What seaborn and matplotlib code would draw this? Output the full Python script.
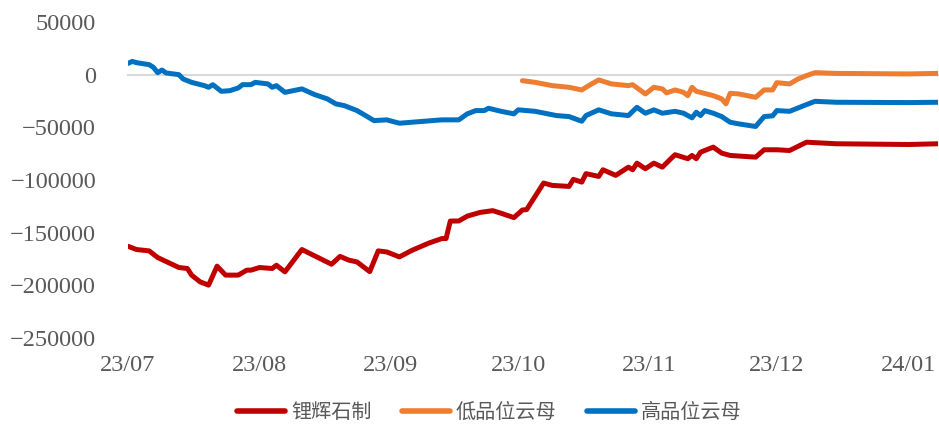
import matplotlib
matplotlib.use("Agg")
import matplotlib.pyplot as plt
import matplotlib.dates as mdates
from matplotlib.lines import Line2D
from matplotlib.ticker import FuncFormatter, FixedLocator
import seaborn as sns
import pandas as pd

sns.set_theme(style="white")
plt.rcParams['font.family'] = ['Liberation Serif', 'DejaVu Sans']

# ---- data ----
series_names = ["锂辉石制", "低品位云母", "高品位云母"]
colors = ["#C00000", "#ED7D31", "#0070C0"]

blue_dates = ["2023-07-01","2023-07-02","2023-07-03","2023-07-06","2023-07-07","2023-07-08","2023-07-09","2023-07-10",
              "2023-07-13","2023-07-14","2023-07-16","2023-07-19","2023-07-20","2023-07-21","2023-07-23","2023-07-25",
              "2023-07-27","2023-07-28","2023-07-30","2023-07-31",
              "2023-08-03","2023-08-04","2023-08-05","2023-08-07","2023-08-11","2023-08-14","2023-08-17","2023-08-19",
              "2023-08-21","2023-08-23","2023-08-24","2023-08-26","2023-08-28","2023-08-31",
              "2023-09-03","2023-09-08","2023-09-13","2023-09-17","2023-09-19","2023-09-21","2023-09-23","2023-09-24",
              "2023-09-27","2023-09-30",
              "2023-10-01","2023-10-05","2023-10-10","2023-10-13","2023-10-16","2023-10-17","2023-10-20","2023-10-23",
              "2023-10-27","2023-10-29","2023-10-31",
              "2023-11-02","2023-11-04","2023-11-07","2023-11-09","2023-11-11","2023-11-12","2023-11-13","2023-11-14",
              "2023-11-16","2023-11-18","2023-11-20","2023-11-22","2023-11-26","2023-11-28","2023-11-30",
              "2023-12-01","2023-12-04","2023-12-08","2023-12-10","2023-12-15",
              "2024-01-01","2024-01-08"]
blue_values = [10700,12600,11400,9500,6900,1900,4400,1600,0,-4100,-7300,-10400,-12000,-9500,-15800,-15200,
               -12600,-9500,-9500,-7300,
               -8800,-12000,-10400,-16800,-13500,-18900,-23000,-27700,-29400,-32500,-34100,-38800,-43600,-42900,
               -46100,-44500,-42900,-42900,-37200,-34100,-34100,-31900,-34800,-37200,
               -33400,-34800,-38800,-39800,-44200,-38800,-33400,-37200,-38800,-31000,-36600,
               -33400,-36600,-34800,-36600,-41000,-35700,-38800,-34100,-36600,-39800,-45200,-46700,-49200,-39800,-39100,
               -34100,-34800,-28400,-25300,-26200,
               -26500,-26200]

red_dates = ["2023-07-01","2023-07-03","2023-07-06","2023-07-08","2023-07-11","2023-07-13","2023-07-15","2023-07-16",
             "2023-07-18","2023-07-20","2023-07-22","2023-07-24","2023-07-27","2023-07-29","2023-07-30",
             "2023-08-01","2023-08-04","2023-08-05","2023-08-07","2023-08-11","2023-08-14","2023-08-18","2023-08-20",
             "2023-08-22","2023-08-24","2023-08-27","2023-08-29","2023-08-31",
             "2023-09-03","2023-09-06","2023-09-10","2023-09-13","2023-09-14","2023-09-15","2023-09-17","2023-09-19",
             "2023-09-22","2023-09-25","2023-09-27","2023-09-30",
             "2023-10-02","2023-10-03","2023-10-05","2023-10-07","2023-10-09","2023-10-13","2023-10-14","2023-10-16",
             "2023-10-17","2023-10-20","2023-10-21","2023-10-24","2023-10-27","2023-10-28","2023-10-29","2023-10-31",
             "2023-11-02","2023-11-04","2023-11-06","2023-11-07","2023-11-10","2023-11-11","2023-11-12","2023-11-13",
             "2023-11-16","2023-11-18","2023-11-20","2023-11-26","2023-11-28",
             "2023-12-01","2023-12-04","2023-12-08","2023-12-15",
             "2024-01-01","2024-01-08"]
red_values = [-162900,-166000,-167300,-173600,-179300,-183100,-184000,-190300,-196700,-199800,-181800,-190300,
              -190300,-185600,-185600,
              -183100,-184000,-180900,-187200,-166000,-172000,-180000,-172500,-176000,-177800,-187000,-167300,-168300,
              -173000,-166700,-159800,-155600,-155600,-139000,-138900,-134300,-130800,-129100,-131600,-135700,
              -128500,-128100,-115500,-102900,-105100,-106100,-99400,-102000,-94000,-96600,-90300,-95600,-87800,
              -90300,-84000,-89300,
              -84000,-87800,-79800,-76000,-79800,-76700,-79800,-73600,-68800,-74500,-76700,-78300,-71300,
              -71300,-72000,-64100,-65600,
              -66300,-65600]

orange_dates = ["2023-10-02","2023-10-05","2023-10-09","2023-10-13","2023-10-16","2023-10-18","2023-10-20",
                "2023-10-23","2023-10-27","2023-10-28","2023-10-31",
                "2023-11-02","2023-11-04","2023-11-05","2023-11-07","2023-11-09","2023-11-10","2023-11-11",
                "2023-11-12","2023-11-16","2023-11-18","2023-11-19","2023-11-20","2023-11-22","2023-11-26",
                "2023-11-28","2023-11-30",
                "2023-12-01","2023-12-04","2023-12-06","2023-12-08","2023-12-10","2023-12-15",
                "2024-01-01","2024-01-08"]
orange_values = [-5700,-7300,-10400,-12000,-14500,-9500,-5000,-8800,-10400,-9500,-18300,
                 -12000,-13500,-17300,-14500,-16800,-19900,-12000,-15800,-19900,-23000,-27700,-17700,-18300,
                 -21500,-14500,-14500,
                 -7600,-8800,-4100,-900,1900,1200,
                 700,1200]

y_ticks = [50000, 0, -50000, -100000, -150000, -200000, -250000]

frames = []
for name, d, v in zip(series_names, [red_dates, orange_dates, blue_dates],
                      [red_values, orange_values, blue_values]):
    frames.append(pd.DataFrame({"date": pd.to_datetime(d), "value": v, "series": name}))
df = pd.concat(frames, ignore_index=True)

# ---- figure ----
fig = plt.figure(figsize=(9.39, 4.24), dpi=100)
ax = fig.add_axes([128/939, (424-338)/424, (938-128)/939, (338-22)/424])

sns.lineplot(data=df, x="date", y="value", hue="series", hue_order=series_names,
             palette=dict(zip(series_names, colors)), estimator=None, sort=True,
             linewidth=3.6, legend=False, ax=ax)
for ln in ax.lines:
    ln.set_solid_capstyle("round")
    ln.set_solid_joinstyle("round")

ax.set_xlim(pd.Timestamp("2023-07-01"), pd.Timestamp("2024-01-08"))
ax.set_ylim(-250000, 50000)
ax.set_xlabel("")
ax.set_ylabel("")

grey = "#595959"
for s in ["top", "right", "left"]:
    ax.spines[s].set_visible(False)
ax.spines["bottom"].set_position(("data", 0))
ax.spines["bottom"].set_color("#D9D9D9")
ax.spines["bottom"].set_linewidth(1.5)
ax.spines["bottom"].set_zorder(0.5)

ax.xaxis.set_major_locator(mdates.MonthLocator(bymonthday=1))
ax.tick_params(axis="x", which="major", direction="out", length=4, width=1.3,
               color="#D9D9D9", labelbottom=False)

ax.yaxis.set_major_locator(FixedLocator(y_ticks))
ax.yaxis.set_major_formatter(FuncFormatter(lambda v, p: ("\u2212" if v < 0 else "") + f"{abs(int(v))}"))
ax.tick_params(axis="y", length=0, pad=23, labelsize=17.5, labelcolor=grey)
ax.grid(False)

sec = ax.secondary_xaxis(0)
sec.xaxis.set_major_locator(mdates.MonthLocator(bymonthday=1))
sec.xaxis.set_major_formatter(mdates.DateFormatter("%y/%m"))
sec.tick_params(axis="x", length=0, pad=12, labelsize=17.5, labelcolor=grey)
sec.spines["bottom"].set_visible(False)

handles = [Line2D([0], [0], color=c, lw=4, solid_capstyle="round") for c in colors]
leg = fig.legend(handles, series_names, loc="center", bbox_to_anchor=(0.521, 0.027), ncol=3,
                 frameon=False, handlelength=2.4, handletextpad=0.3, columnspacing=1.5,
                 prop={"family": ["Noto Sans CJK SC", "DejaVu Sans"], "size": 14.5})
for t in leg.get_texts():
    t.set_color(grey)

fig.savefig("out.png", dpi=100)
